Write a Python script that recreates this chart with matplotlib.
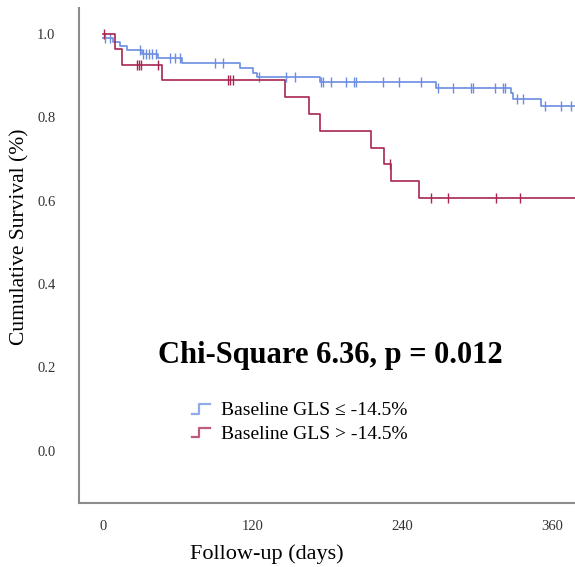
import numpy as np
import matplotlib
matplotlib.use('Agg')
import matplotlib.pyplot as plt
from matplotlib.legend_handler import HandlerBase
from matplotlib.lines import Line2D

# Kaplan-Meier steps (days, survival)
blue_times = [0, 8, 13.6, 19.2, 31.2, 44, 63.2, 109.6, 120, 123, 173.6, 267, 326.4, 328, 351]
blue_surv = [0.99, 0.98, 0.97, 0.961, 0.951, 0.942, 0.931, 0.919, 0.907, 0.897, 0.884, 0.871, 0.857, 0.843, 0.826]
blue_censored = [1.6, 5.6, 29.6, 32, 34.4, 36.8, 39.2, 42.4, 53.6, 57.6, 61.6, 89.6, 96,
                 125, 146.4, 153.6, 174.5, 176, 183, 194.4, 201, 202.4, 224, 237, 255, 268.2,
                 280, 295, 296.2, 313.6, 320, 321.6, 331.4, 336.2, 353.6, 367, 375]

red_times = [0, 9.6, 15, 47, 145.6, 164.8, 173.6, 214.4, 225, 231, 253]
red_surv = [1.0, 0.963, 0.926, 0.889, 0.848, 0.808, 0.768, 0.727, 0.687, 0.646, 0.606]
red_censored = [0.5, 27.2, 28.8, 30.4, 44, 100, 102, 104, 230.2, 263, 276, 314.6, 333.6]

end_day = 380
labels = ['Baseline GLS \u2264 -14.5%', 'Baseline GLS > -14.5%']
colors = ['#6b8ee3', '#a82650']
stat_text = 'Chi-Square 6.36, p = 0.012'

plt.rcParams['font.family'] = ['Liberation Serif', 'DejaVu Serif']


class StepHandler(HandlerBase):
    # legend icon drawn as a small step, like SPSS does
    def create_artists(self, legend, orig_handle, xdescent, ydescent, width, height, fontsize, trans):
        x0, y0 = -xdescent, -ydescent
        xs = [x0, x0 + 0.4 * width, x0 + 0.4 * width, x0 + width]
        ys = [y0 + 0.1 * height, y0 + 0.1 * height, y0 + 0.8 * height, y0 + 0.8 * height]
        line = Line2D(xs, ys, color=orig_handle.get_color(), lw=1.6, alpha=0.75, transform=trans)
        return [line]


def km_value(times, surv, t):
    idx = np.searchsorted(times, t, side='right') - 1
    return np.asarray(surv)[idx]


fig = plt.figure(figsize=(5.75, 5.67), dpi=100)
ax = fig.add_axes([79 / 575, 64 / 567, 496 / 575, 495 / 567])

handles = []
for times, surv, cens, col, lab in [(blue_times, blue_surv, blue_censored, colors[0], labels[0]),
                                    (red_times, red_surv, red_censored, colors[1], labels[1])]:
    t = np.array(times + [end_day])
    s = np.array(surv + [surv[-1]])
    h, = ax.step(t, s, where='post', color=col, lw=1.2, label=lab)
    ax.plot(cens, km_value(times, surv, cens), linestyle='none', marker='|',
            markersize=7, markeredgewidth=1.0, color=col)
    handles.append(h)

ax.set_xlim(-19.2, 378)
ax.set_ylim(-0.125, 1.062)
ax.set_xticks([0, 120, 240, 360])
ax.set_yticks([0.0, 0.2, 0.4, 0.6, 0.8, 1.0])
ax.set_yticklabels(['0.0', '0.2', '0.4', '0.6', '0.8', '1.0'])
ax.tick_params(length=0, labelsize=10.5, colors='#333333')
ax.tick_params(axis='y', pad=17)
ax.tick_params(axis='x', pad=12)

for side in ['top', 'right']:
    ax.spines[side].set_visible(False)
for side in ['left', 'bottom']:
    ax.spines[side].set_color('#8c8c8c')
    ax.spines[side].set_linewidth(1.5)

ax.set_xlabel('Follow-up (days)', fontsize=16)
ax.xaxis.label.set_va('center')
ax.xaxis.set_label_coords(0.379, -0.103)
ax.set_ylabel('Cumulative Survival (%)', fontsize=15.5)
ax.yaxis.label.set_va('center')
ax.yaxis.set_label_coords(-0.12, 0.537)

ax.text(0.506, 0.298, stat_text, transform=ax.transAxes, ha='center', va='center',
        fontsize=22, fontweight='bold')

ax.legend(handles=handles, handler_map={Line2D: StepHandler()}, loc='upper left',
          bbox_to_anchor=(0.228, 0.205), frameon=False, fontsize=14, handlelength=0.9,
          handletextpad=0.6, labelspacing=0.3, borderpad=0, borderaxespad=0)

fig.savefig('out.png', dpi=100)
